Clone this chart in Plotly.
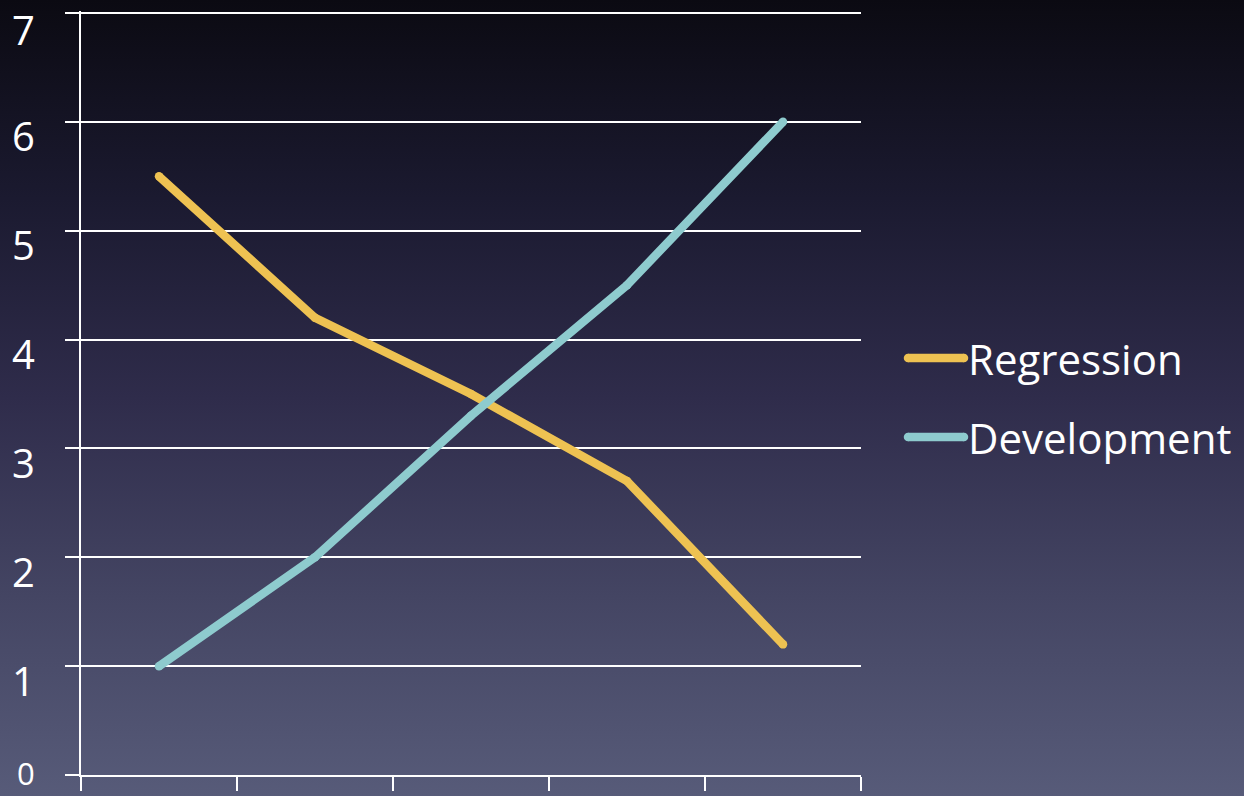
import plotly.graph_objects as go

# Chart data
categories = ["1", "2", "3", "4", "5"]
regression = [5.5, 4.2, 3.5, 2.7, 1.2]
development = [1.0, 2.0, 3.3, 4.5, 6.0]
series_names = ["Regression", "Development"]
y_ticks = [0, 1, 2, 3, 4, 5, 6, 7]

# Styling
W, H = 1244, 796
M = dict(l=81, r=383, t=11, b=21)
PW = W - M["l"] - M["r"]
PH = H - M["t"] - M["b"]
Y_TOP = 7.0184  # a hair above 7 so the top gridline is kept
YELLOW = "#EEC252"
TEAL = "#8ECBCE"
FONT = "Open Sans"
LW = 8.5
TICK_FONT = 40

gradient_svg = (
    "data:image/svg+xml;utf8,"
    "<svg xmlns='http://www.w3.org/2000/svg' width='100' height='100' preserveAspectRatio='none'>"
    "<defs><linearGradient id='g' x1='0' y1='0' x2='0' y2='1'>"
    "<stop offset='0' stop-color='%230b0a12'/>"
    "<stop offset='0.25' stop-color='%231b1a30'/>"
    "<stop offset='0.5' stop-color='%232f2c4b'/>"
    "<stop offset='0.75' stop-color='%23444563'/>"
    "<stop offset='1' stop-color='%23575b79'/>"
    "</linearGradient></defs>"
    "<rect width='100' height='100' fill='url(%23g)'/></svg>"
)

fig = go.Figure()
for name, vals, color in [(series_names[0], regression, YELLOW),
                          (series_names[1], development, TEAL)]:
    fig.add_trace(go.Scatter(
        x=categories, y=vals, name=name, mode="lines+markers",
        line=dict(color=color, width=LW),
        marker=dict(color=color, size=LW, line=dict(width=0)),
        showlegend=False, cliponaxis=False,
    ))

shapes = []
annotations = []

# Y tick labels, set just below each gridline
label_x = (36 - M["l"]) / PW
for v in y_ticks:
    ann = dict(xref="paper", yref="y", x=label_x, y=v, xanchor="right",
               text=str(v), showarrow=False, borderpad=0,
               font=dict(family=FONT, size=TICK_FONT, color="white"))
    if v == y_ticks[0]:
        ann.update(yanchor="bottom", yshift=-(M["b"] - 1),
                   font=dict(family=FONT, size=31, color="white"))
    elif v == y_ticks[-1]:
        ann.update(yanchor="top", yshift=12)
    else:
        ann.update(yanchor="middle", yshift=-14)
    annotations.append(ann)

# Manual legend: line swatches with round ends plus labels
legend_y_px = [358, 437]
for name, color, ypx in zip(series_names, [YELLOW, TEAL], legend_y_px):
    yp = (H - M["b"] - ypx) / PH
    x0p = (908 - M["l"]) / PW
    x1p = (964 - M["l"]) / PW
    shapes.append(dict(type="line", xref="paper", yref="paper",
                       x0=x0p, x1=x1p, y0=yp, y1=yp,
                       line=dict(color=color, width=LW)))
    for xa in (x0p, x1p):
        shapes.append(dict(type="circle", xref="paper", yref="paper",
                           xsizemode="pixel", ysizemode="pixel",
                           xanchor=xa, yanchor=yp,
                           x0=-LW / 2, x1=LW / 2, y0=-LW / 2, y1=LW / 2,
                           fillcolor=color, line=dict(width=0)))
    annotations.append(dict(xref="paper", yref="paper",
                            x=(966 - M["l"]) / PW, y=yp,
                            xanchor="left", yanchor="middle",
                            text=name, showarrow=False,
                            font=dict(family=FONT, size=42, color="white")))

fig.update_layout(
    width=W, height=H, margin=M,
    paper_bgcolor="#2f2c4b", plot_bgcolor="rgba(0,0,0,0)",
    images=[dict(source=gradient_svg, xref="paper", yref="paper",
                 x=-M["l"] / PW, y=1 + M["t"] / PH,
                 sizex=W / PW, sizey=H / PH,
                 xanchor="left", yanchor="top",
                 sizing="stretch", layer="below")],
    shapes=shapes, annotations=annotations,
    xaxis=dict(type="category", categoryorder="array", categoryarray=categories,
               range=[-0.5, len(categories) - 0.5], automargin=False,
               showgrid=False, zeroline=False, showticklabels=False,
               showline=True, linecolor="white", linewidth=2,
               ticks="outside", tickson="boundaries", ticklen=14,
               tickcolor="white", tickwidth=2),
    yaxis=dict(range=[0, Y_TOP], tickvals=y_ticks, showticklabels=False,
               automargin=False,
               showgrid=True, gridcolor="white", gridwidth=2,
               zeroline=False, showline=True, linecolor="white", linewidth=2,
               ticks="outside", ticklen=14, tickcolor="white", tickwidth=2),
)

fig.write_html("out.html")
